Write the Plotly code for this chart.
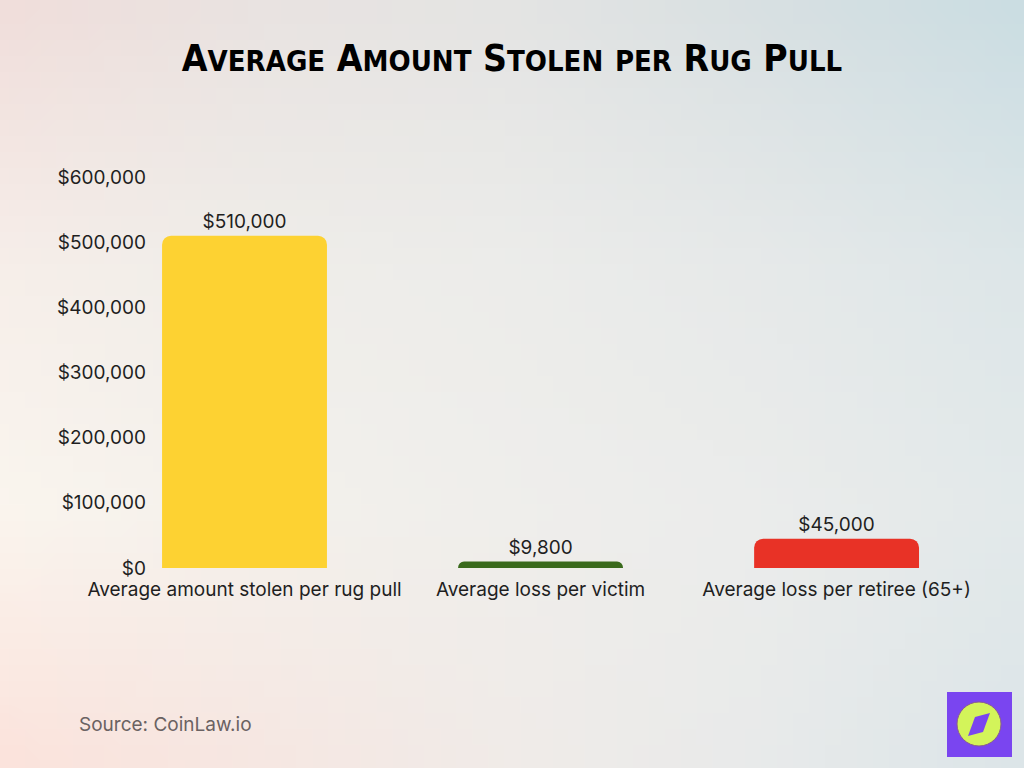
import base64, struct, zlib
import plotly.graph_objects as go

# ---- data ----
categories = ["Average amount stolen per rug pull", "Average loss per victim", "Average loss per retiree (65+)"]
values = [510000, 9800, 45000]
value_labels = ["$510,000", "$9,800", "$45,000"]
bar_colors = ["#FDD232", "#3A6A1C", "#E83226"]
y_tick_vals = [0, 100000, 200000, 300000, 400000, 500000, 600000]
y_tick_text = ["$0", "$100,000", "$200,000", "$300,000", "$400,000", "$500,000", "$600,000"]

# ---- background gradient as a tiny PNG ----
grid = [
    ["#F0DEDB", "#E9E3E1", "#E4E4E3", "#D8E0E2", "#CBDDE2"],
    ["#F6EEE9", "#EFEDE9", "#ECECEA", "#E6E9E9", "#DDE6E8"],
    ["#FAF5EE", "#F4F1EC", "#EFEEEB", "#EBECEB", "#E3E9EA"],
    ["#FBE3DC", "#F6E7E2", "#F0EBE8", "#E8EAEA", "#DCE5E8"],
]
def hx(c):
    return [int(c[i:i + 2], 16) for i in (1, 3, 5)]
G = [[hx(c) for c in row] for row in grid]
W, H = 64, 48
rows = []
for j in range(H):
    fy = j / (H - 1) * (len(G) - 1)
    r0 = min(int(fy), len(G) - 2); ty = fy - r0
    line = bytearray([0])
    for i in range(W):
        fx = i / (W - 1) * (len(G[0]) - 1)
        c0 = min(int(fx), len(G[0]) - 2); tx = fx - c0
        px = []
        for k in range(3):
            a = G[r0][c0][k] * (1 - tx) + G[r0][c0 + 1][k] * tx
            b = G[r0 + 1][c0][k] * (1 - tx) + G[r0 + 1][c0 + 1][k] * tx
            px.append(int(round(a * (1 - ty) + b * ty)))
        line += bytes(px)
    rows.append(bytes(line))
raw = b"".join(rows)
def chunk(t, d):
    c = struct.pack(">I", len(d)) + t + d
    return c + struct.pack(">I", zlib.crc32(t + d) & 0xffffffff)
png = b"\x89PNG\r\n\x1a\n" + chunk(b"IHDR", struct.pack(">IIBBBBB", W, H, 8, 2, 0, 0, 0)) \
      + chunk(b"IDAT", zlib.compress(raw, 9)) + chunk(b"IEND", b"")
bg_uri = "data:image/png;base64," + base64.b64encode(png).decode()

FONT = "Inter"
fig = go.Figure()
fig.add_trace(go.Bar(
    x=list(range(len(categories))), y=values,
    marker=dict(color=bar_colors, line=dict(width=0)),
    width=0.557,
    text=value_labels, textposition="outside", cliponaxis=False,
    textfont=dict(family=FONT, size=19, color="#1f1f1f"),
    hoverinfo="skip",
))

def big_small(words):
    parts = []
    for w in words:
        if w == "per":
            parts.append("<span style='font-size:29px'>PER</span>")
        else:
            parts.append(w[0] + "<span style='font-size:29px'>" + w[1:].upper() + "</span>")
    return " ".join(parts)

title_html = big_small(["Average", "Amount", "Stolen", "per", "Rug", "Pull"])

fig.update_layout(
    width=1024, height=768,
    margin=dict(l=152, r=40, t=177, b=200),
    paper_bgcolor="rgba(0,0,0,0)", plot_bgcolor="rgba(0,0,0,0)",
    barcornerradius=9,
    showlegend=False,
    title=dict(text=title_html, x=0.5, xanchor="center", y=0.924, yanchor="middle",
               font=dict(family="DejaVu Sans Condensed, Roboto, sans-serif", size=37, color="#000000", weight="bold")),
    xaxis=dict(range=[-0.3125, 2.498], tickvals=list(range(len(categories))), ticktext=categories,
               showgrid=False, zeroline=False, showline=False, ticks="", ticklabelstandoff=8,
               tickfont=dict(family=FONT, size=19, color="#1f1f1f")),
    yaxis=dict(range=[0, 600000], tickvals=y_tick_vals, ticktext=y_tick_text,
               showgrid=False, zeroline=False, showline=False, ticks="", ticklabelstandoff=5,
               tickfont=dict(family=FONT, size=19, color="#1f1f1f")),
    images=[dict(source=bg_uri, xref="paper", yref="paper", x=-152/832, y=1 + 177/391,
                 sizex=1024/832, sizey=768/391, xanchor="left", yanchor="top",
                 sizing="stretch", layer="below")],
    annotations=[dict(text="Source: CoinLaw.io", xref="paper", yref="paper",
                      x=-75/832, y=-156/391, xanchor="left", yanchor="middle", showarrow=False,
                      font=dict(family=FONT, size=19, color="#6a6262"))],
)

# logo
def px_x(p):
    return (p - 152) / 832
def px_y(p):
    return (568 - p) / 391
fig.add_shape(type="rect", xref="paper", yref="paper", x0=px_x(947), x1=px_x(1012), y0=px_y(757), y1=px_y(692),
              fillcolor="#7A45F0", line=dict(width=0))
fig.add_shape(type="circle", xref="paper", yref="paper", x0=px_x(957), x1=px_x(1001), y0=px_y(746), y1=px_y(702),
              fillcolor="#D3F45A", line=dict(color="#8A5E8A", width=1))
fig.add_shape(type="path", xref="paper", yref="paper",
              path="M {} {} L {} {} L {} {} L {} {} Z".format(
                  px_x(990), px_y(713), px_x(983), px_y(732), px_x(968), px_y(736), px_x(975), px_y(717)),
              fillcolor="#7A45F0", line=dict(width=0))

fig.write_html("out.html", config={"displayModeBar": False},
               post_script="document.body.style.margin='0';document.body.style.padding='0';document.body.style.overflow='hidden';")
